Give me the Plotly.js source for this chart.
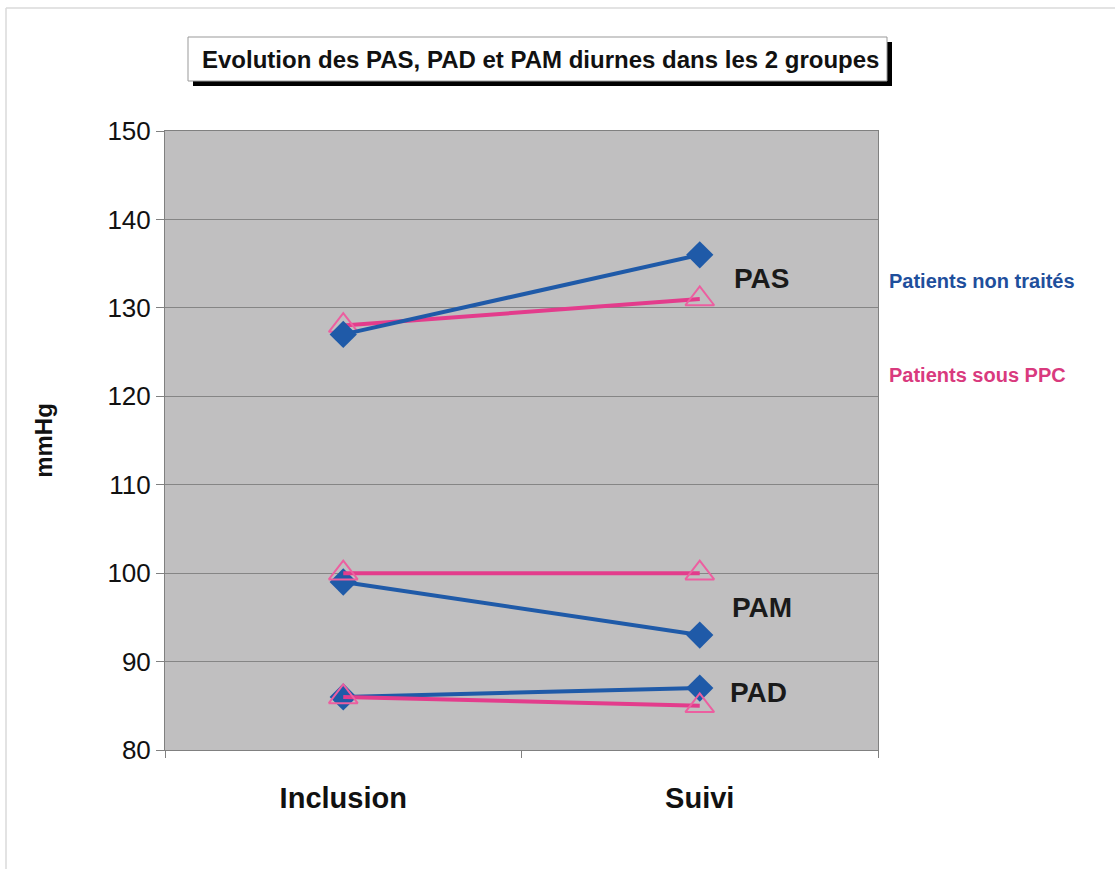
<!DOCTYPE html>
<html>
<head>
<meta charset="utf-8">
<script src="https://cdn.plot.ly/plotly-3.0.1.min.js"></script>
<style>html,body{margin:0;padding:0;background:#fff;}#chart{width:1115px;height:869px;}</style>
</head>
<body>
<div id="chart"></div>
<script>
var categories = ['Inclusion', 'Suivi'];
var nonTraitesPAS = [127, 136];
var nonTraitesPAM = [99, 93];
var nonTraitesPAD = [86, 87];
var ppcPAS = [128, 131];
var ppcPAM = [100, 100];
var ppcPAD = [86, 85];
var seriesLabels = ['PAS', 'PAM', 'PAD'];
var groupLabels = ['Patients non traités', 'Patients sous PPC'];
var titleText = 'Evolution des PAS, PAD et PAM diurnes dans les 2 groupes';

var blue = '#1f5aa8';
var pink = '#e33c8c';

function blueTrace(y) {
  return {x: categories, y: y, type: 'scatter', mode: 'lines+markers',
    line: {color: blue, width: 4},
    marker: {symbol: 'diamond', size: 21, color: blue, line: {width: 0}},
    showlegend: false, cliponaxis: false};
}
function pinkTrace(y) {
  return {x: categories, y: y, type: 'scatter', mode: 'lines+markers',
    line: {color: pink, width: 4},
    marker: {symbol: 'triangle-up-open', size: 25, color: '#ec5fa0', line: {width: 2, color: '#ec5fa0'}},
    showlegend: false, cliponaxis: false};
}

var data = [
  pinkTrace(ppcPAS), blueTrace(nonTraitesPAS),
  blueTrace(nonTraitesPAM), pinkTrace(ppcPAM),
  blueTrace(nonTraitesPAD), pinkTrace(ppcPAD)
];

var L = 165, R = 878, T = 131, B = 750;
var W = R - L, H = B - T;
function px(p) { return (p - L) / W; }
function py(p) { return (B - p) / H; }

var layout = {
  width: 1115, height: 869,
  margin: {l: L, r: 1115 - R, t: T, b: 869 - B},
  paper_bgcolor: '#ffffff',
  plot_bgcolor: '#c0bfc0',
  font: {family: 'Liberation Sans, Arial, sans-serif', color: '#111'},
  xaxis: {
    type: 'category', range: [-0.5, 1.5], tickson: 'boundaries',
    ticks: 'outside', ticklen: 7, tickcolor: '#808080', tickwidth: 1,
    showgrid: false, zeroline: false,
    showline: true, linecolor: '#808080', linewidth: 1, mirror: true,
    tickfont: {size: 29, family: 'Liberation Sans, Arial, sans-serif', color: '#111', weight: 'bold'},
    ticklabelstandoff: 22
  },
  yaxis: {
    range: [80, 150], dtick: 10, tick0: 80,
    ticks: 'outside', ticklen: 8, tickcolor: '#808080', tickwidth: 1,
    showgrid: true, gridcolor: '#858585', gridwidth: 1,
    zeroline: false,
    showline: true, linecolor: '#808080', linewidth: 1, mirror: true,
    tickfont: {size: 26, family: 'Liberation Sans, Arial, sans-serif', color: '#111'},
    title: {text: 'mmHg', font: {size: 24, weight: 'bold', color: '#111'}, standoff: 48}
  },
  shapes: [
    {type: 'line', xref: 'paper', yref: 'paper', x0: px(6), x1: px(1115), y0: py(8), y1: py(8), line: {color: '#dadada', width: 1.5}},
    {type: 'line', xref: 'paper', yref: 'paper', x0: px(6), x1: px(6), y0: py(8), y1: py(869), line: {color: '#dadada', width: 1.5}},
    {type: 'rect', xref: 'paper', yref: 'paper', x0: px(193), x1: px(892), y0: py(42), y1: py(86), fillcolor: '#000', line: {width: 0}},
    {type: 'rect', xref: 'paper', yref: 'paper', x0: px(188), x1: px(887), y0: py(37), y1: py(81), fillcolor: '#fff', line: {color: '#999', width: 1}}
  ],
  annotations: [
    {xref: 'paper', yref: 'paper', x: px(540), y: py(59), text: titleText, showarrow: false,
      font: {size: 24, weight: 'bold', color: '#111'}, xanchor: 'center', yanchor: 'middle'},
    {xref: 'paper', yref: 'paper', x: px(762), y: py(278), text: seriesLabels[0], showarrow: false,
      font: {size: 28, weight: 'bold', color: '#1a1a1a'}, xanchor: 'center', yanchor: 'middle'},
    {xref: 'paper', yref: 'paper', x: px(762), y: py(607), text: seriesLabels[1], showarrow: false,
      font: {size: 28, weight: 'bold', color: '#1a1a1a'}, xanchor: 'center', yanchor: 'middle'},
    {xref: 'paper', yref: 'paper', x: px(758), y: py(692), text: seriesLabels[2], showarrow: false,
      font: {size: 28, weight: 'bold', color: '#1a1a1a'}, xanchor: 'center', yanchor: 'middle'},
    {xref: 'paper', yref: 'paper', x: px(887), y: py(281), text: groupLabels[0], showarrow: false,
      font: {size: 20, weight: 'bold', color: '#1f4f9c'}, xanchor: 'left', yanchor: 'middle'},
    {xref: 'paper', yref: 'paper', x: px(887), y: py(375), text: groupLabels[1], showarrow: false,
      font: {size: 20, weight: 'bold', color: '#d93a7e'}, xanchor: 'left', yanchor: 'middle'}
  ]
};

Plotly.newPlot('chart', data, layout, {displayModeBar: false, staticPlot: true});
</script>
</body>
</html>
